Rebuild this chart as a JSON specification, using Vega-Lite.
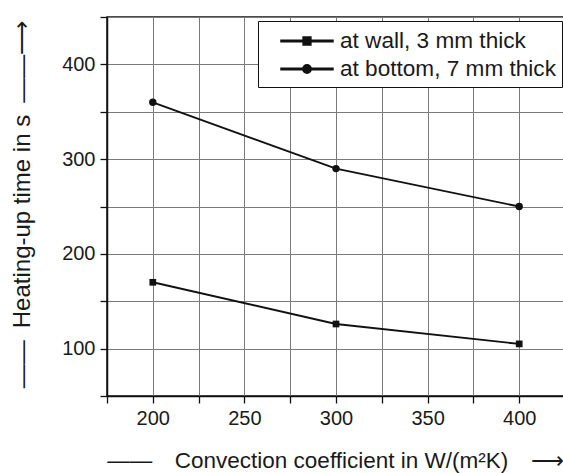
{
  "$schema": "https://vega.github.io/schema/vega-lite/v6.json",
  "autosize": "none",
  "padding": {"left": 107, "top": 17, "right": 0, "bottom": 77},
  "width": 458,
  "height": 379,
  "background": "white",
  "data": {
    "values": [
      {"h": 200, "t": 170, "series": "at wall, 3 mm thick"},
      {"h": 300, "t": 126, "series": "at wall, 3 mm thick"},
      {"h": 400, "t": 105, "series": "at wall, 3 mm thick"},
      {"h": 200, "t": 360, "series": "at bottom, 7 mm thick"},
      {"h": 300, "t": 290, "series": "at bottom, 7 mm thick"},
      {"h": 400, "t": 250, "series": "at bottom, 7 mm thick"}
    ]
  },
  "layer": [
    {
      "mark": {"type": "line", "color": "#111", "strokeWidth": 1.9},
      "encoding": {
        "x": {
          "field": "h", "type": "quantitative",
          "scale": {"domain": [175, 425], "nice": false, "zero": false},
          "axis": {
            "grid": true,
            "gridColor": "#7a7a7a",
            "gridWidth": 1,
            "values": [175, 200, 225, 250, 275, 300, 325, 350, 375, 400, 425],
            "labelExpr": "datum.value % 50 === 0 ? datum.label : ''",
            "tickSize": 7,
            "labelPadding": 5,
            "title": "——\u2002\u2002Convection coefficient in W/(m²K)\u2002\u2002⟶",
            "titleFontSize": 22.5,
            "titleX": 228,
            "titleY": 64,
            "titleAlign": "center",
            "titleBaseline": "middle"
          }
        },
        "y": {
          "field": "t", "type": "quantitative",
          "scale": {"domain": [50, 450], "nice": false, "zero": false},
          "axis": {
            "grid": true,
            "gridColor": "#7a7a7a",
            "gridWidth": 1,
            "values": [50, 100, 150, 200, 250, 300, 350, 400, 450],
            "labelExpr": "datum.value % 100 === 0 ? datum.label : ''",
            "tickSize": 7,
            "labelPadding": 5,
            "title": "——\u2002Heating-up time in s\u2002——⟶",
            "titleFontSize": 24,
            "titleAngle": -90,
            "titleX": -85,
            "titleY": 187,
            "titleAlign": "center",
            "titleBaseline": "middle"
          }
        },
        "detail": {"field": "series"}
      }
    },
    {
      "transform": [{"filter": "datum.series === 'at wall, 3 mm thick'"}],
      "mark": {"type": "point", "shape": "square", "filled": true, "color": "#111", "opacity": 1, "size": 45},
      "encoding": {"x": {"field": "h", "type": "quantitative"}, "y": {"field": "t", "type": "quantitative"}}
    },
    {
      "transform": [{"filter": "datum.series === 'at bottom, 7 mm thick'"}],
      "mark": {"type": "point", "shape": "circle", "filled": true, "color": "#111", "opacity": 1, "size": 55},
      "encoding": {"x": {"field": "h", "type": "quantitative"}, "y": {"field": "t", "type": "quantitative"}}
    },
    {
      "transform": [{"filter": "false"}],
      "mark": {"type": "point", "filled": true, "color": "#111", "stroke": "#111", "strokeWidth": 1.5, "opacity": 1},
      "encoding": {
        "x": {"field": "h", "type": "quantitative"},
        "y": {"field": "t", "type": "quantitative"},
        "shape": {
          "field": "series", "type": "nominal",
          "scale": {
            "domain": ["at wall, 3 mm thick", "at bottom, 7 mm thick"],
            "range": [
              "M0.23,-0.05H4.23V0.05H0.23ZM1.93,-0.3H2.53V0.3H1.93Z",
              "M0.23,-0.05H4.23V0.05H0.23ZM1.91,0A0.32,0.32 0 1,1 2.55,0A0.32,0.32 0 1,1 1.91,0Z"
            ]
          },
          "legend": {
            "title": null,
            "orient": "none",
            "legendX": 151,
            "legendY": 4,
            "padding": 6,
            "rowPadding": 2,
            "symbolSize": 676,
            "labelOffset": 48,
            "labelFontSize": 22.6,
            "labelLimit": 400,
            "labelColor": "#1a1a1a",
            "strokeColor": "#111",
            "fillColor": "white",
            "cornerRadius": 0
          }
        }
      }
    }
  ],
  "config": {
    "font": "Liberation Sans",
    "view": {"stroke": "#111", "strokeWidth": 1.5},
    "axis": {
      "domainColor": "#111",
      "domainWidth": 1.5,
      "tickColor": "#111",
      "tickWidth": 1.3,
      "labelFontSize": 20,
      "labelColor": "#1a1a1a",
      "labelFont": "Liberation Sans",
      "titleFont": "Liberation Sans",
      "titleFontWeight": "normal",
      "titleColor": "#1a1a1a"
    }
  }
}
